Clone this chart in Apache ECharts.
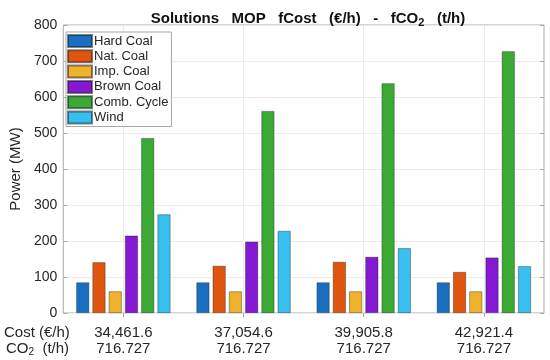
<!DOCTYPE html>
<html>
<head>
<meta charset="utf-8">
<script src="https://cdn.jsdelivr.net/npm/echarts@6/dist/echarts.min.js"></script>
<style>html,body{margin:0;padding:0;background:#fff}#c{width:550px;height:360px}</style>
</head>
<body>
<div id="c"></div>
<script>
const costLabels = ['34,461.6', '37,054.6', '39,905.8', '42,921.4'];
const co2Labels = ['716.727', '716.727', '716.727', '716.727'];
const seriesNames = ['Hard Coal', 'Nat. Coal', 'Imp. Coal', 'Brown Coal', 'Comb. Cycle', 'Wind'];
const hardCoal = [85, 85, 85, 85];
const natCoal = [141, 131, 142, 114];
const impCoal = [60, 60, 60, 60];
const brownCoal = [215, 198, 156, 154];
const combCycle = [486, 561, 638, 727];
const wind = [274, 228, 180, 130];
const yTicks = [0, 100, 200, 300, 400, 500, 600, 700, 800];
const colors = ['#1a6fc0', '#e0560f', '#efb22c', '#8419d4', '#3ca935', '#37bfef'];

const seriesData = [hardCoal, natCoal, impCoal, brownCoal, combCycle, wind];
const FONT = 'Liberation Sans, Arial, Helvetica, sans-serif';
const TXT = '#262626';

const chart = echarts.init(document.getElementById('c'), null, {renderer: 'canvas'});
const gridIdx = ['0','1','2','3','4','5','6','7','8'];

chart.setOption({
  animation: false,
  backgroundColor: '#fff',
  textStyle: {fontFamily: FONT, color: TXT},
  title: {
    text: 'Solutions   MOP   fCost   (€/h)   -   fCO{sub|2}   (t/h)',
    left: 303, top: 4, textAlign: 'center',
    textStyle: {
      fontFamily: FONT, fontSize: 15, fontWeight: 'bold', color: '#111',
      rich: {sub: {fontFamily: FONT, fontSize: 11, fontWeight: 'bold', color: '#111', padding: [8, 0, 0, 0]}}
    }
  },
  legend: {
    orient: 'vertical', left: 66, top: 32,
    data: seriesNames,
    itemWidth: 24, itemHeight: 12, itemGap: 1.3,
    padding: [2, 3, 2, 1],
    backgroundColor: '#fff', borderColor: '#a8a8a8', borderWidth: 1, borderRadius: 0,
    textStyle: {fontFamily: FONT, fontSize: 13, color: TXT, padding: [0, 0, 0, -3], lineHeight: 13},
    icon: 'rect'
  },
  grid: {left: 59, right: 6, top: 25, bottom: 47, show: true, borderColor: '#a8a8a8', borderWidth: 1, backgroundColor: 'transparent'},
  xAxis: [{
    type: 'category', data: costLabels,
    axisLine: {show: false}, axisTick: {show: false}, splitLine: {show: false},
    axisLabel: {
      margin: 12, fontFamily: FONT, fontSize: 15, color: TXT, lineHeight: 16,
      formatter: function (v, i) { return v + '\n' + co2Labels[i]; }
    }
  }, {
    type: 'category', data: gridIdx, boundaryGap: false, position: 'top',
    axisLine: {show: false}, axisLabel: {show: false},
    axisTick: {show: true, inside: true, length: 4, lineStyle: {color: '#a8a8a8'}, interval: function (i) { return i % 2 === 1; }},
    splitLine: {show: true, lineStyle: {color: '#ebebeb', width: 1}, interval: function (i) { return i % 2 === 1; }}
  }],
  yAxis: [{
    type: 'value', min: 0, max: 800, interval: 100,
    name: 'Power (MW)', nameLocation: 'middle', nameGap: 34,
    nameTextStyle: {fontFamily: FONT, fontSize: 15, color: TXT},
    axisLine: {show: false},
    axisTick: {show: true, inside: true, length: 4, lineStyle: {color: '#a8a8a8'}},
    axisLabel: {margin: 6, fontFamily: FONT, fontSize: 14, color: TXT,
      formatter: function (v) { return yTicks.indexOf(v) >= 0 ? String(v) : ''; }},
    splitLine: {show: true, lineStyle: {color: '#ebebeb', width: 1}}
  }, {
    type: 'value', min: 0, max: 800, interval: 100, position: 'right',
    axisLine: {show: false}, axisLabel: {show: false},
    axisTick: {show: true, inside: true, length: 4, lineStyle: {color: '#a8a8a8'}},
    splitLine: {show: false}
  }],
  series: seriesNames.map(function (name, k) {
    return {
      name: name, type: 'bar', xAxisIndex: 0, yAxisIndex: 0,
      data: seriesData[k], barWidth: 13, barGap: '25%',
      itemStyle: {color: colors[k], borderColor: 'rgba(30,30,30,0.55)', borderWidth: 0.7}
    };
  }),
  graphic: [
    {type: 'text', left: 4, top: 325, style: {text: 'Cost (€/h)', font: '15px ' + FONT, fill: TXT}},
    {type: 'text', left: 6, top: 341, style: {
      text: 'CO{s|2}  (t/h)', font: '15px ' + FONT, fill: TXT,
      rich: {s: {fontSize: 10, fontFamily: FONT, fill: TXT, padding: [7, 0, 0, 0]}}
    }}
  ]
});
</script>
</body>
</html>
